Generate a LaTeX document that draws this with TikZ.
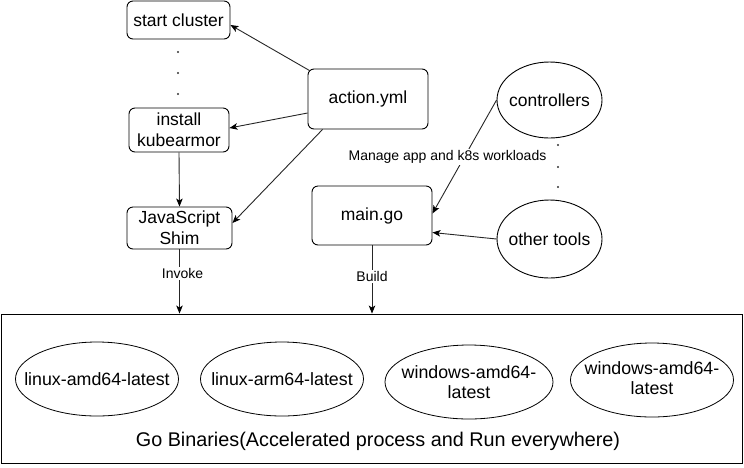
\documentclass[tikz,border=0pt]{standalone}
\usepackage{fontspec}
\setmainfont{Liberation Sans}
\usetikzlibrary{arrows.meta,shapes.geometric,calc}
\begin{document}
\begin{tikzpicture}[x=1pt,y=-1pt,
  box/.style={draw=black,line width=0.9pt,rounded corners=6pt,inner sep=0pt,
    font=\fontsize{17.5}{21}\selectfont,align=center},
  oval/.style={draw=black,line width=0.9pt,ellipse,inner sep=0pt},
  ovaltext/.style={font=\fontsize{17.5}{21}\selectfont,align=center,inner sep=0pt},
  bintext/.style={font=\fontsize{17.8}{20}\selectfont,align=center,inner sep=0pt},
  binoval/.style={draw=black,line width=0.8pt,ellipse,inner sep=0pt,
    minimum width=163pt,minimum height=74pt},
  arr/.style={draw=black!85,line width=0.9pt,-{Stealth[length=8pt,width=6.5pt,inset=2pt,color=black]}},
  lbl/.style={fill=white,inner sep=1.5pt,font=\fontsize{14}{16}\selectfont},
  dotmark/.style={fill=black!80}
]
\useasboundingbox (0,0) rectangle (744,467);

% left column
\node[box,minimum width=103pt,minimum height=38pt] (start) at (178.5,20) {start cluster};
\node[box,minimum width=100pt,minimum height=44pt] (install) at (179,130) {install\\kubearmor};
\node[box,minimum width=105pt,minimum height=42pt] (shim) at (179.5,228) {JavaScript\\Shim};

% middle
\node[box,minimum width=120pt,minimum height=60pt] (action) at (368,99) {action.yml};
\node[box,minimum width=120pt,minimum height=59pt] (main) at (372,215.5) {main.go};

% right
\node[oval,minimum width=105pt,minimum height=76pt,
  label={[ovaltext]center:controllers}] (ctrl) at (549.5,100) {};
\node[oval,minimum width=105pt,minimum height=78pt,
  label={[ovaltext]center:other tools}] (tools) at (549.5,239) {};

% container
\node[draw=black,line width=0.9pt,rectangle,inner sep=0pt,minimum width=741pt,minimum height=149pt] (bin) at (371.5,388.5) {};
\node[binoval,label={[bintext]center:linux-amd64-latest}] (b1) at (97,379) {};
\node[binoval,label={[bintext]center:linux-arm64-latest}] (b2) at (282,379) {};
\node[binoval,minimum width=168pt,label={[bintext]center:windows-amd64-\\latest}] (b3) at (469,382) {};
\node[binoval,label={[bintext,yshift=2pt]center:windows-amd64-\\latest}] (b4) at (652,380) {};
\node[font=\fontsize{19.8}{23}\selectfont,inner sep=0pt] (binlabel) at (378,441) {Go Binaries(Accelerated process and Run everywhere)};

% dots
\foreach \yy in {52,73,94} \fill[dotmark] (178,\yy) circle (1.2pt);
\foreach \yy in {145,167,187} \fill[dotmark] (558,\yy) circle (1.2pt);

% connectors
\draw[arr] ([yshift=-2pt,xshift=2pt]action.north west) -- ([yshift=-5pt]start.east);
\draw[arr] ([yshift=-14pt]action.west) -- ([yshift=2pt]install.east);
\draw[arr] ([xshift=15pt]action.south west) -- ([yshift=5pt]shim.east);
\draw[arr] (install.south) -- (shim.north);
\draw[arr] (ctrl.west) -- ([yshift=2pt]main.east)
  node[lbl,pos=0.5,xshift=-17pt] {Manage app and k8s workloads};
\draw[arr] (tools.west) -- ([yshift=-17pt]main.east);
\draw[arr] (shim.south) -- (shim.south |- bin.north)
  node[lbl,pos=0.38,xshift=3pt] {Invoke};
\draw[arr] (main.south) -- (main.south |- bin.north)
  node[lbl,pos=0.46] {Build};
\end{tikzpicture}
\end{document}
